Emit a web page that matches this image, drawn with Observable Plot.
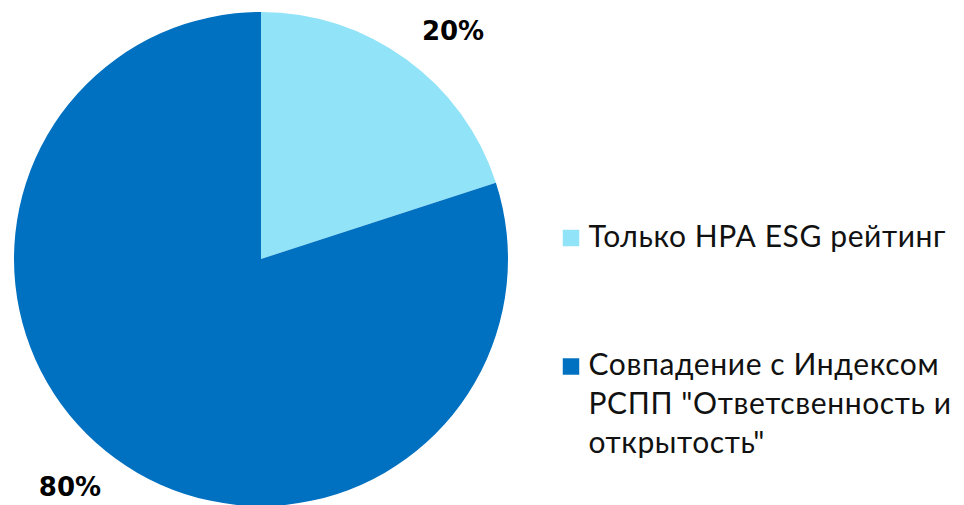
<!DOCTYPE html>
<html>
<head>
<meta charset="utf-8">
<script src="https://cdn.jsdelivr.net/npm/d3@7"></script>
<script src="https://cdn.jsdelivr.net/npm/@observablehq/plot@0.6"></script>
<style>
  html, body { margin: 0; padding: 0; background: #fff; }
  #chart svg { display: block; }
</style>
</head>
<body>
<div id="chart"></div>
<script>
const categories = ["Только НРА ESG рейтинг", "Совпадение с Индексом РСПП \"Ответсвенность и открытость\""];
const legendLabels = ["Только НРА ESG рейтинг", "Совпадение с Индексом\nРСПП \"Ответсвенность и\nоткрытость\""];
const values = [20, 80];
const valueLabels = ["20%", "80%"];
const colors = ["#91E3F8", "#0070C0"];

const W = 964, H = 505;
const cx = 261, cy = 259, R = 247;
const fontFamily = "Lato, 'Open Sans', sans-serif";

const arcs = d3.pie().sort(null).value(d => d.value)(
  categories.map((c, i) => ({category: c, value: values[i], label: valueLabels[i]}))
);

const labelPos = arcs.map(a => {
  const ang = (a.startAngle + a.endAngle) / 2 + 4 * Math.PI / 180;
  const r = 298;
  return {label: a.data.label, x: cx + r * Math.sin(ang), y: cy - r * Math.cos(ang)};
});

const legend = categories.map((c, i) => ({category: c, text: legendLabels[i], y: [237.5, 366][i]}));

function pieMark(index, scales, values, dimensions) {
  const g = d3.create("svg:g");
  const arc = d3.arc().innerRadius(0).outerRadius(R);
  const px = scales.x(cx), py = scales.y(cy);
  g.selectAll("path").data(arcs).join("path")
    .attr("transform", `translate(${px},${py})`)
    .attr("d", arc)
    .attr("fill", d => scales.color(d.data.category));
  return g.node();
}

const chart = Plot.plot({
  width: W,
  height: H,
  margin: 0,
  x: {domain: [0, W], range: [0, W], axis: null},
  y: {domain: [0, H], range: [0, H], axis: null},
  color: {domain: categories, range: colors},
  style: {fontFamily, background: "#fff"},
  marks: [
    pieMark,
    Plot.text(labelPos, {x: "x", y: "y", text: "label", fontSize: 26, fontWeight: "bold",
      fontFamily: "'DejaVu Sans', sans-serif", fill: "#000"}),
    Plot.dot(legend, {x: 570.5, y: "y", symbol: "square", r: 9.3, fill: "category", stroke: null}),
    Plot.text(legend, {x: 588, y: d => d.y - 19, text: "text", textAnchor: "start", lineAnchor: "top",
      fontSize: 30, lineHeight: 1.3, fill: "#111", fontWeight: 400})
  ]
});
chart.querySelectorAll("text").forEach(t => {
  if (!/%/.test(t.textContent)) t.style.letterSpacing = "0.6px";
});
document.getElementById("chart").appendChild(chart);
</script>
</body>
</html>
